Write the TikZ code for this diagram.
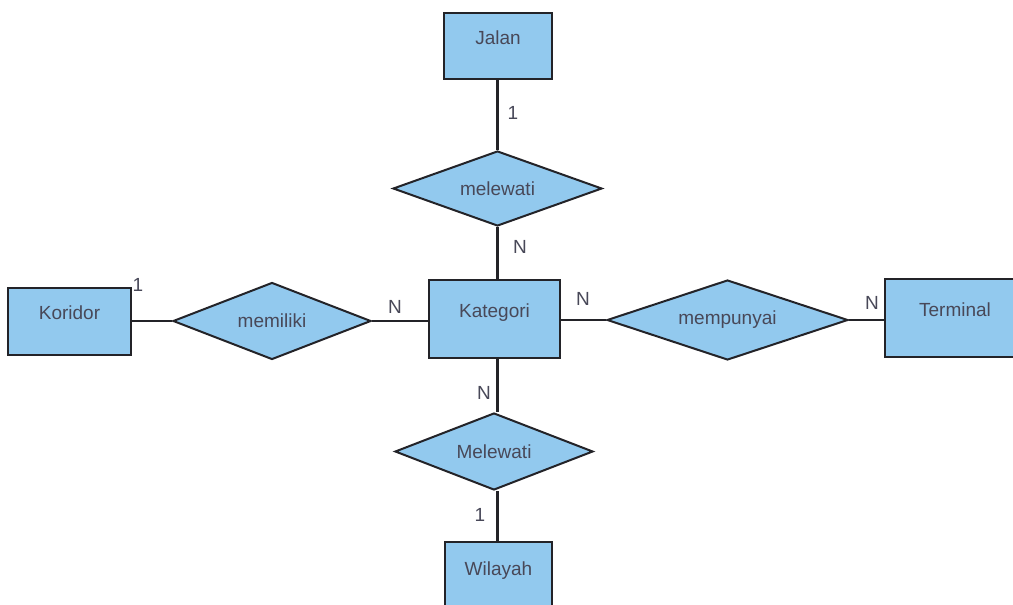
\documentclass[tikz,border=0pt]{standalone}
\usepackage{fontspec}
\setmainfont{Liberation Sans}
\usetikzlibrary{shapes.geometric}
\definecolor{erfill}{RGB}{146,201,238}
\definecolor{erline}{RGB}{35,35,40}
\definecolor{ertext}{RGB}{72,72,88}
\tikzset{
  entity/.style={draw=erline, line width=2.2pt, fill=erfill, rectangle, inner sep=0pt,
    text=ertext, font=\fontsize{19}{19}\selectfont, text height=14pt, text depth=18pt},
  relation/.style={draw=erline, line width=2pt, fill=erfill, diamond, aspect=3, inner sep=0pt,
    text=ertext, font=\fontsize{19}{19}\selectfont},
  link/.style={draw=erline, line width=2.2pt},
  card/.style={text=ertext, font=\fontsize{19}{19}\selectfont, inner sep=0pt}
}
\begin{document}
\begin{tikzpicture}[x=1pt, y=-1pt]
  \useasboundingbox (0,0) rectangle (1013,605);
  \clip (0,0) rectangle (1013,605);
  \fill[white] (0,0) rectangle (1013,605);

  % entities
  \node[entity, minimum width=108pt, minimum height=66pt] (jalan) at (498,46) {Jalan};
  \node[entity, minimum width=131pt, minimum height=78pt] (kategori) at (494.5,319) {Kategori};
  \node[entity, minimum width=123pt, minimum height=67pt] (koridor) at (69.5,321.5) {Koridor};
  \node[entity, minimum width=140pt, minimum height=78pt] (terminal) at (955,318) {Terminal};
  \node[entity, minimum width=107pt, minimum height=70pt] (wilayah) at (498.5,577) {Wilayah};

  % relationships
  \node[relation, minimum width=209pt, minimum height=75pt] (melewati) at (497.5,188.5) {melewati};
  \node[relation, minimum width=198pt, minimum height=77pt] (memiliki) at (272,321) {memiliki};
  \node[relation, minimum width=241pt, minimum height=80pt] (mempunyai) at (727.5,320) {mempunyai};
  \node[relation, minimum width=198pt, minimum height=77pt] (Melewati) at (494,451.5) {Melewati};

  % connectors
  \draw[link] (jalan.south -| melewati.north) -- (melewati.north);
  \draw[link] (melewati.south) -- (melewati.south |- kategori.north);
  \draw[link] (koridor.east |- memiliki.west) -- (memiliki.west);
  \draw[link] (memiliki.east) -- (memiliki.east -| kategori.west);
  \draw[link] (kategori.east |- mempunyai.west) -- (mempunyai.west);
  \draw[link] (mempunyai.east) -- (mempunyai.east -| terminal.west);
  \draw[link] (kategori.south -| melewati.south) -- (Melewati.north -| melewati.south);
  \draw[link] (Melewati.south -| melewati.south) -- (wilayah.north -| melewati.south);

  % cardinalities
  \node[card] (c1) at (513,113) {1};
  \node[card] (c2) at (520,247) {N};
  \node[card] (c3) at (138,285) {1};
  \node[card] (c4) at (395,307) {N};
  \node[card] (c5) at (583,299) {N};
  \node[card] (c6) at (872,303) {N};
  \node[card] (c7) at (484,393) {N};
  \node[card] (c8) at (480,515) {1};
\end{tikzpicture}
\end{document}
